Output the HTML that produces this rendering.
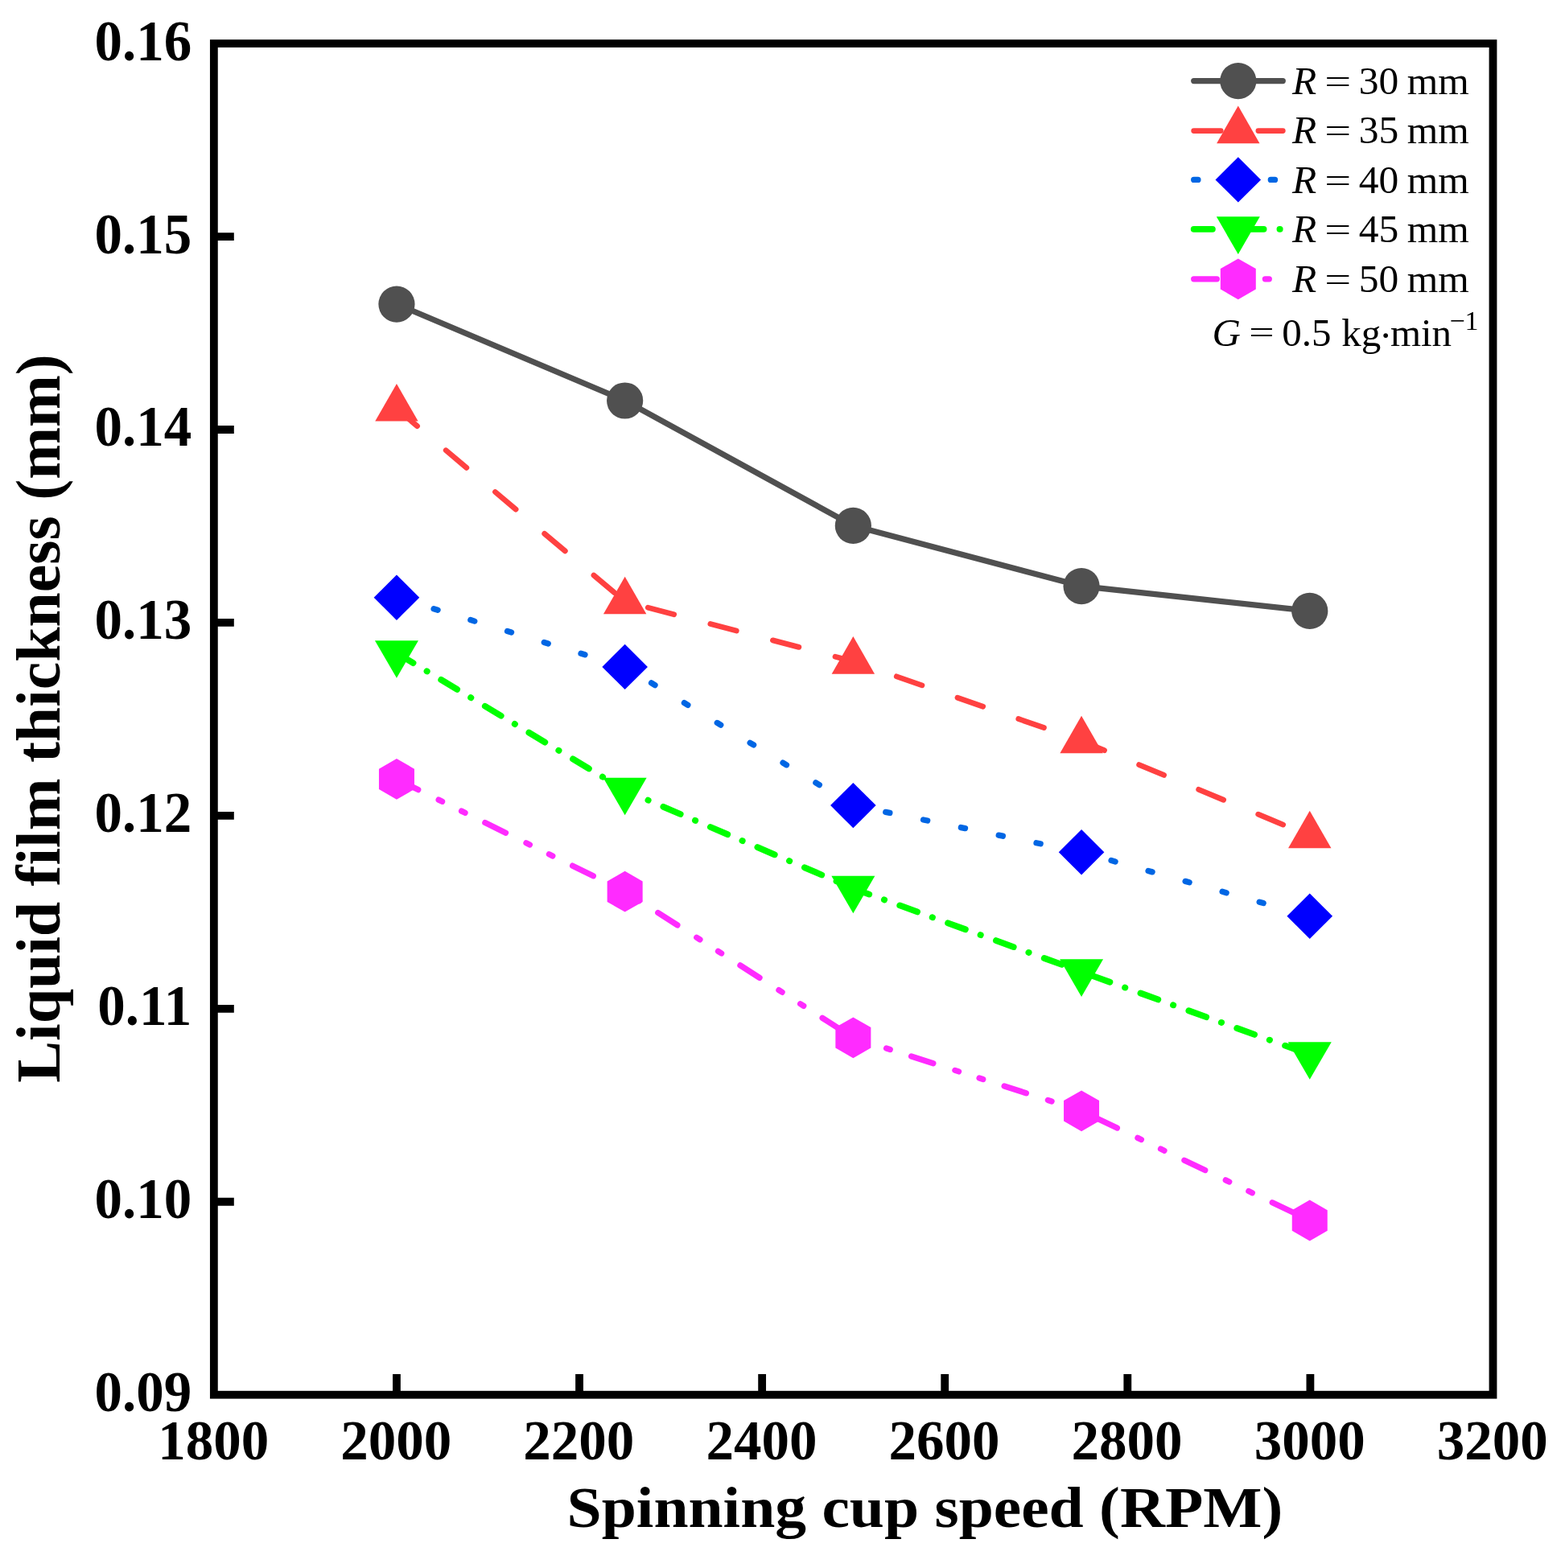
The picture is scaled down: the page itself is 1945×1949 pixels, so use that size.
<!DOCTYPE html>
<html><head><meta charset="utf-8"><title>Liquid film thickness vs spinning cup speed</title>
<style>
html,body{margin:0;padding:0;background:#fff;}
body{width:1945px;height:1949px;overflow:hidden;}
svg{display:block;}
text{font-family:"Liberation Serif","Times New Roman",serif;fill:#000;}
.tl{font-weight:bold;font-size:71px;}
.tlx{font-weight:bold;font-size:69px;}
.xt{font-weight:bold;font-size:72px;}
.yt{font-weight:bold;font-size:77.8px;}
.lg{font-size:49.5px;}
.lg2{font-size:49px;}
.sup{font-size:34px;font-family:"Liberation Serif",serif;}
</style></head>
<body>
<svg width="1945" height="1949" viewBox="0 0 1945 1949">
<rect width="1945" height="1949" fill="#fff"/>
<rect x="265.85" y="54.1" width="1589.65" height="1679.6" fill="none" stroke="#000" stroke-width="9.8"/>
<path d="M492.94,1733.7 V1708 M720.04,1733.7 V1708 M947.13,1733.7 V1708 M1174.22,1733.7 V1708 M1401.31,1733.7 V1708 M1628.41,1733.7 V1708 M265.85,1493.76 H290.8 M265.85,1253.81 H290.8 M265.85,1013.87 H290.8 M265.85,773.93 H290.8 M265.85,533.99 H290.8 M265.85,294.04 H290.8" stroke="#000" stroke-width="9.8" fill="none"/>
<text class="tl" transform="translate(238.2,74.6) scale(0.972,1.024)" text-anchor="end">0.16</text>
<text class="tl" transform="translate(238.2,314.54) scale(0.972,1.024)" text-anchor="end">0.15</text>
<text class="tl" transform="translate(238.2,554.49) scale(0.972,1.024)" text-anchor="end">0.14</text>
<text class="tl" transform="translate(238.2,794.43) scale(0.972,1.024)" text-anchor="end">0.13</text>
<text class="tl" transform="translate(238.2,1034.37) scale(0.972,1.024)" text-anchor="end">0.12</text>
<text class="tl" transform="translate(238.2,1274.31) scale(0.972,1.024)" text-anchor="end">0.11</text>
<text class="tl" transform="translate(238.2,1514.26) scale(0.972,1.024)" text-anchor="end">0.10</text>
<text class="tl" transform="translate(238.2,1754.2) scale(0.972,1.024)" text-anchor="end">0.09</text>
<text class="tlx" x="265.15" y="1813.6" text-anchor="middle">1800</text>
<text class="tlx" x="492.24" y="1813.6" text-anchor="middle">2000</text>
<text class="tlx" x="719.34" y="1813.6" text-anchor="middle">2200</text>
<text class="tlx" x="946.43" y="1813.6" text-anchor="middle">2400</text>
<text class="tlx" x="1173.52" y="1813.6" text-anchor="middle">2600</text>
<text class="tlx" x="1400.61" y="1813.6" text-anchor="middle">2800</text>
<text class="tlx" x="1627.71" y="1813.6" text-anchor="middle">3000</text>
<text class="tlx" x="1854.8" y="1813.6" text-anchor="middle">3200</text>
<text class="xt" transform="translate(704.6,1898) scale(1.077,1)">Spinning cup speed (RPM)</text>
<text class="yt" transform="translate(74.1,1345.8) rotate(-90)">Liquid film thickness (mm)</text>
<path d="M492.95,378.1 L776.65,498 L1060.35,653.4 L1344.05,728.6 L1627.75,759.4" fill="none" stroke="#505050" stroke-width="7.2" stroke-linecap="round" stroke-linejoin="round"/>
<path d="M492.95,508 L776.65,747.7 L1060.35,822.1 L1344.05,920.8 L1627.75,1038.8" fill="none" stroke="#FF4141" stroke-width="6.8" stroke-linecap="round" stroke-linejoin="round" stroke-dasharray="33.5,46.7"/>
<path d="M492.95,742.7 L776.65,828.9 L1060.35,1001.1 L1344.05,1059.2 L1627.75,1138.7" fill="none" stroke="#0066E4" stroke-width="7.3" stroke-linecap="round" stroke-linejoin="round" stroke-dasharray="5.2,42.6" stroke-dashoffset="-0.4"/>
<path d="M492.95,811.7 L776.65,982.3 L1060.35,1104.3 L1344.05,1207.9 L1627.75,1310.8" fill="none" stroke="#00FF00" stroke-width="7.8" stroke-linecap="round" stroke-linejoin="round" stroke-dasharray="23.2,19.85,0.3,20.35" stroke-dashoffset="-0.8"/>
<path d="M492.95,968.4 L776.65,1108.2 L1060.35,1289.8 L1344.05,1380.8 L1627.75,1517" fill="none" stroke="#FF2BFF" stroke-width="7.3" stroke-linecap="round" stroke-linejoin="round" stroke-dasharray="28.6,28.4,4.9,26.8,4.9,27.7" stroke-dashoffset="-1.2"/>
<circle cx="492.95" cy="378.1" r="22.6" fill="#505050"/>
<circle cx="776.65" cy="498" r="22.6" fill="#505050"/>
<circle cx="1060.35" cy="653.4" r="22.6" fill="#505050"/>
<circle cx="1344.05" cy="728.6" r="22.6" fill="#505050"/>
<circle cx="1627.75" cy="759.4" r="22.6" fill="#505050"/>
<polygon points="492.95,476.93 519.65,523.53 466.25,523.53" fill="#FF4141"/>
<polygon points="776.65,716.63 803.35,763.23 749.95,763.23" fill="#FF4141"/>
<polygon points="1060.35,791.03 1087.05,837.63 1033.65,837.63" fill="#FF4141"/>
<polygon points="1344.05,889.73 1370.75,936.33 1317.35,936.33" fill="#FF4141"/>
<polygon points="1627.75,1007.73 1654.45,1054.33 1601.05,1054.33" fill="#FF4141"/>
<polygon points="492.95,714.5 521.25,742.7 492.95,770.9 464.65,742.7" fill="#0000FF"/>
<polygon points="776.65,800.7 804.95,828.9 776.65,857.1 748.35,828.9" fill="#0000FF"/>
<polygon points="1060.35,972.9 1088.65,1001.1 1060.35,1029.3 1032.05,1001.1" fill="#0000FF"/>
<polygon points="1344.05,1031 1372.35,1059.2 1344.05,1087.4 1315.75,1059.2" fill="#0000FF"/>
<polygon points="1627.75,1110.5 1656.05,1138.7 1627.75,1166.9 1599.45,1138.7" fill="#0000FF"/>
<polygon points="465.95,796.17 519.95,796.17 492.95,842.77" fill="#00FF00"/>
<polygon points="749.65,966.77 803.65,966.77 776.65,1013.37" fill="#00FF00"/>
<polygon points="1033.35,1088.77 1087.35,1088.77 1060.35,1135.37" fill="#00FF00"/>
<polygon points="1317.05,1192.37 1371.05,1192.37 1344.05,1238.97" fill="#00FF00"/>
<polygon points="1600.75,1295.27 1654.75,1295.27 1627.75,1341.87" fill="#00FF00"/>
<polygon points="492.95,943 514.95,955.7 514.95,981.1 492.95,993.8 470.95,981.1 470.95,955.7" fill="#FF2BFF"/>
<polygon points="776.65,1082.8 798.65,1095.5 798.65,1120.9 776.65,1133.6 754.65,1120.9 754.65,1095.5" fill="#FF2BFF"/>
<polygon points="1060.35,1264.4 1082.35,1277.1 1082.35,1302.5 1060.35,1315.2 1038.35,1302.5 1038.35,1277.1" fill="#FF2BFF"/>
<polygon points="1344.05,1355.4 1366.05,1368.1 1366.05,1393.5 1344.05,1406.2 1322.05,1393.5 1322.05,1368.1" fill="#FF2BFF"/>
<polygon points="1627.75,1491.6 1649.75,1504.3 1649.75,1529.7 1627.75,1542.4 1605.75,1529.7 1605.75,1504.3" fill="#FF2BFF"/>
<path d="M1483.7,100.55 L1594.3,100.55" fill="none" stroke="#505050" stroke-width="7.2" stroke-linecap="round" stroke-linejoin="round"/>
<circle cx="1538.8" cy="100.55" r="22.6" fill="#505050"/>
<text class="lg" y="116.9"><tspan x="1605.9" font-style="italic">R</tspan><tspan x="1688.7">30</tspan><tspan x="1748.8">mm</tspan></text>
<text class="lg" text-anchor="middle" transform="translate(1662.6,114.8) scale(1.18,0.84)">=</text>
<path d="M1483.7,162.6 L1594.3,162.6" fill="none" stroke="#FF4141" stroke-width="6.8" stroke-linecap="round" stroke-linejoin="round" stroke-dasharray="33.5,46.7"/>
<polygon points="1538.8,131.53 1565.5,178.13 1512.1,178.13" fill="#FF4141"/>
<text class="lg" y="178.4"><tspan x="1605.9" font-style="italic">R</tspan><tspan x="1688.7">35</tspan><tspan x="1748.8">mm</tspan></text>
<text class="lg" text-anchor="middle" transform="translate(1662.6,176.3) scale(1.18,0.84)">=</text>
<path d="M1483.7,223.4 L1594.3,223.4" fill="none" stroke="#0066E4" stroke-width="7.3" stroke-linecap="round" stroke-linejoin="round" stroke-dasharray="5.2,42.6"/>
<polygon points="1538.8,195.2 1567.1,223.4 1538.8,251.6 1510.5,223.4" fill="#0000FF"/>
<text class="lg" y="239.9"><tspan x="1605.9" font-style="italic">R</tspan><tspan x="1688.7">40</tspan><tspan x="1748.8">mm</tspan></text>
<text class="lg" text-anchor="middle" transform="translate(1662.6,237.8) scale(1.18,0.84)">=</text>
<path d="M1483.7,284.85 L1594.3,284.85" fill="none" stroke="#00FF00" stroke-width="7.8" stroke-linecap="round" stroke-linejoin="round" stroke-dasharray="23.2,19.85,0.3,20.35"/>
<polygon points="1511.8,269.32 1565.8,269.32 1538.8,315.92" fill="#00FF00"/>
<text class="lg" y="301.4"><tspan x="1605.9" font-style="italic">R</tspan><tspan x="1688.7">45</tspan><tspan x="1748.8">mm</tspan></text>
<text class="lg" text-anchor="middle" transform="translate(1662.6,299.3) scale(1.18,0.84)">=</text>
<path d="M1483.7,346.8 L1594.3,346.8" fill="none" stroke="#FF2BFF" stroke-width="7.3" stroke-linecap="round" stroke-linejoin="round" stroke-dasharray="28.6,28.4,4.9,26.8,4.9,27.7"/>
<polygon points="1538.8,321.4 1560.8,334.1 1560.8,359.5 1538.8,372.2 1516.8,359.5 1516.8,334.1" fill="#FF2BFF"/>
<text class="lg" y="362.9"><tspan x="1605.9" font-style="italic">R</tspan><tspan x="1688.7">50</tspan><tspan x="1748.8">mm</tspan></text>
<text class="lg" text-anchor="middle" transform="translate(1662.6,360.8) scale(1.18,0.84)">=</text>
<text class="lg2" y="429.8"><tspan x="1506.6" font-style="italic">G</tspan><tspan x="1593.2">0.5</tspan><tspan x="1667.3">kg</tspan><tspan x="1727.9">min</tspan></text>
<text class="lg2" text-anchor="middle" transform="translate(1568,427) scale(1.136,0.833)">=</text>
<text class="lg2" x="1713.9" y="432.8">·</text>
<text class="sup" y="409.8"><tspan x="1801.4">−</tspan><tspan x="1820.5">1</tspan></text>
</svg>
</body></html>
